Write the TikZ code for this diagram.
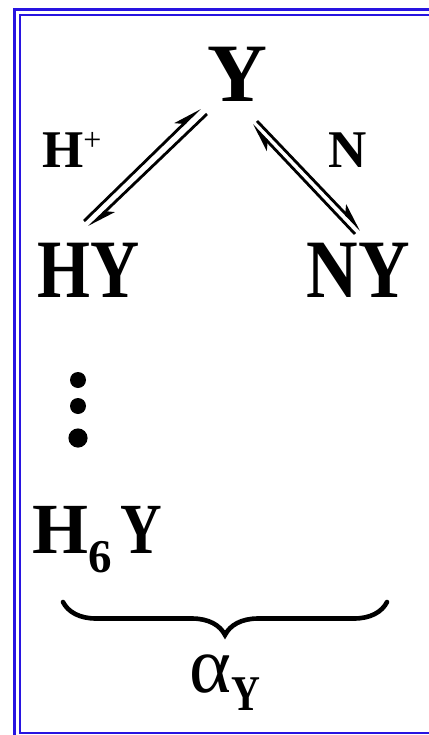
\documentclass[tikz,border=0pt]{standalone}
\usepackage{fontspec}
\setmainfont{Liberation Serif}
\usetikzlibrary{arrows.meta, decorations.pathreplacing, positioning}
\definecolor{frameblue}{RGB}{40,20,225}

\begin{document}
\begin{tikzpicture}[
  x=1pt, y=-1pt,
  big/.style={inner sep=0pt, font=\bfseries\fontsize{83}{83}\selectfont},
  mid/.style={inner sep=0pt, font=\bfseries\fontsize{53}{53}\selectfont},
  harp/.style={
    line width=2.8pt,
    -{Stealth[harpoon, length=24pt, width=14pt, inset=6pt]}
  },
  frame/.style={draw=frameblue, line width=2.6pt},
  brace/.style={
    decorate, decoration={brace, mirror, amplitude=33pt},
    line width=4.6pt, line cap=round
  }
]
  \useasboundingbox (0,0) rectangle (428,735);

  % double frame, open to the right and below
  \draw[frame] (440,9.5) -- (14.5,9.5) -- (14.5,750);
  \draw[frame] (440,15) -- (20,15) -- (20,733) -- (440,733);

  % species
  \node[big, anchor=base] (Y) at (237,102) {Y};
  \node[big, anchor=base west] (HY) at (37,297) {\scalebox{0.82}[1]{HY}};
  \node[big, anchor=base east] (NY) at (410,297) {\scalebox{0.86}[1]{NY}};
  \node[inner sep=0pt, anchor=base west, font=\bfseries\fontsize{72}{72}\selectfont]
    (H6Y) at (32,553)
    {H\raisebox{-19pt}{\fontsize{47}{47}\selectfont 6}\hspace{9pt}\scalebox{0.8}[1]{Y}};

  % reagents
  \node[mid, anchor=base west] (Hp) at (42,168)
    {H\raisebox{17pt}{\mdseries\fontsize{32}{32}\selectfont +}};
  \node[mid, anchor=base west] (N) at (328,168) {N};

  % equilibria
  \coordinate (HYup) at (84,221);
  \coordinate (YinL) at (200,108);
  \coordinate (YoutL) at (207,114);
  \coordinate (HYin) at (89,227);
  \draw[harp] (HYup) -- (YinL);
  \draw[harp] (YoutL) -- (HYin);

  \coordinate (NYup) at (355,234);
  \coordinate (YinR) at (252,125);
  \coordinate (YoutR) at (257,121);
  \coordinate (NYin) at (361,230);
  \draw[harp] (NYup) -- (YinR);
  \draw[harp] (YoutR) -- (NYin);

  % ellipsis
  \fill (78,380) circle (8);
  \fill (78,406) circle (8);
  \fill (78,438) circle (9.6);

  % sum
  \coordinate (bl) at (63,602);
  \coordinate (br) at (387,602);
  \draw[brace] (bl) -- (br);
  \node[inner sep=0pt, anchor=base west, font=\fontsize{80}{80}\selectfont]
    (alpha) at (189,692)
    {α\raisebox{-18pt}{\bfseries\fontsize{50}{50}\selectfont\scalebox{0.8}[1]{Y}}};
\end{tikzpicture}
\end{document}
